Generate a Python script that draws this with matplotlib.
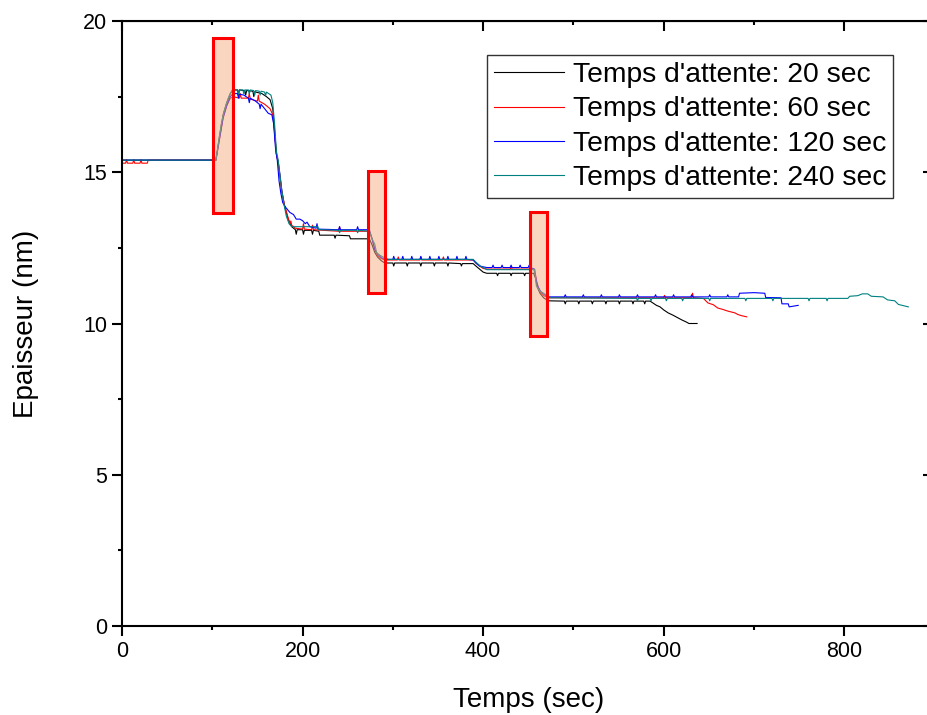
import matplotlib
matplotlib.use('Agg')
import matplotlib.pyplot as plt
from matplotlib.patches import Rectangle
from matplotlib.ticker import MultipleLocator

plt.rcParams['font.family'] = ['Liberation Sans', 'DejaVu Sans']

# temps d'attente 20 sec (noir)
t20 = [0, 104, 108, 112, 116, 120, 123, 128, 129, 130, 136, 137, 138, 145, 146, 147, 155, 160, 164,
       167, 169, 171, 173, 175, 177, 180, 184, 188, 192, 193, 194, 200, 201, 202, 210, 211, 212, 218,
       219, 235, 236, 237, 252, 253, 274, 277, 280, 283, 287, 291, 300, 301, 302, 315, 316, 317, 330,
       331, 332, 345, 346, 347, 360, 361, 362, 375, 376, 377, 389, 392, 396, 400, 404, 415, 416, 417,
       430, 431, 432, 445, 446, 447, 456, 458, 460, 463, 467, 472, 490, 491, 492, 505, 506, 507, 520,
       521, 522, 535, 536, 537, 550, 551, 552, 565, 566, 567, 578, 579, 580, 585, 588, 592, 596, 600,
       605, 610, 615, 620, 625, 628, 637]
e20 = [15.4, 15.4, 16.2, 16.9, 17.3, 17.6, 17.72, 17.72, 17.55, 17.72, 17.7, 17.55, 17.7, 17.68, 17.5,
       17.66, 17.6, 17.5, 17.4, 17.1, 16.4, 15.6, 15.35, 14.9, 14.4, 13.9, 13.45, 13.2, 13.1, 12.95,
       13.1, 13.1, 12.95, 13.08, 13.08, 12.95, 13.08, 13.05, 12.92, 12.92, 12.82, 12.92, 12.9, 12.8,
       12.8, 12.6, 12.35, 12.2, 12.08, 12.0, 12.0, 11.9, 12.0, 12.0, 11.9, 12.0, 12.0, 11.9, 12.0,
       12.0, 11.9, 12.0, 12.0, 11.9, 12.0, 11.98, 11.9, 11.98, 11.98, 11.9, 11.8, 11.7, 11.66, 11.66,
       11.58, 11.66, 11.66, 11.58, 11.66, 11.66, 11.58, 11.66, 11.66, 11.5, 11.2, 11.0, 10.85, 10.75,
       10.74, 10.65, 10.74, 10.74, 10.65, 10.74, 10.74, 10.65, 10.74, 10.74, 10.65, 10.74, 10.74,
       10.65, 10.74, 10.74, 10.65, 10.74, 10.74, 10.65, 10.74, 10.74, 10.68, 10.6, 10.55, 10.45,
       10.35, 10.28, 10.2, 10.12, 10.05, 10.0, 10.0]

# temps d'attente 60 sec (rouge)
t60 = [0, 4, 5, 6, 12, 13, 14, 20, 21, 22, 28, 29, 104, 108, 112, 116, 120, 123, 130, 131, 132, 140,
       141, 142, 150, 151, 152, 158, 164, 167, 169, 171, 173, 175, 177, 180, 184, 186, 187, 188, 192,
       200, 201, 202, 210, 211, 212, 240, 241, 242, 274, 277, 280, 283, 287, 291, 305, 306, 307, 330,
       331, 332, 355, 356, 357, 389, 392, 396, 400, 404, 430, 431, 432, 456, 458, 460, 463, 467, 472,
       600, 601, 602, 631, 632, 633, 644, 649, 655, 660, 665, 671, 675, 679, 682, 686, 692]
e60 = [15.3, 15.3, 15.42, 15.3, 15.3, 15.42, 15.3, 15.3, 15.42, 15.3, 15.3, 15.4, 15.4, 16.1, 16.8,
       17.2, 17.45, 17.5, 17.45, 17.6, 17.45, 17.45, 17.6, 17.42, 17.35, 17.55, 17.35, 17.25, 17.1,
       16.9, 16.3, 15.6, 15.3, 14.85, 14.35, 13.9, 13.5, 13.3, 13.39, 13.25, 13.15, 13.12, 13.3, 13.12,
       13.1, 13.25, 13.1, 13.05, 13.2, 13.05, 13.05, 12.8, 12.45, 12.25, 12.15, 12.1, 12.1, 12.2, 12.1,
       12.1, 12.2, 12.1, 12.1, 12.2, 12.1, 12.1, 12.0, 11.9, 11.82, 11.8, 11.8, 11.88, 11.8, 11.8,
       11.6, 11.3, 11.05, 10.92, 10.85, 10.85, 10.93, 10.85, 10.85, 11.0, 10.85, 10.83, 10.68, 10.62,
       10.51, 10.47, 10.41, 10.38, 10.35, 10.3, 10.26, 10.22]

# temps d'attente 120 sec (bleu)
t120 = [0, 104, 108, 112, 116, 120, 123, 128, 129, 130, 135, 140, 141, 142, 148, 152, 153, 154, 158,
        162, 166, 168, 170, 172, 174, 176, 178, 181, 186, 190, 193, 197, 200, 203, 205, 208, 215, 216,
        217, 240, 241, 242, 260, 261, 262, 274, 277, 280, 283, 287, 291, 300, 301, 302, 310, 311, 312,
        320, 321, 322, 330, 331, 332, 340, 341, 342, 350, 351, 352, 360, 361, 362, 370, 371, 372, 380,
        381, 382, 389, 392, 396, 404, 410, 411, 412, 420, 421, 422, 430, 431, 432, 440, 441, 442, 450,
        451, 452, 457, 459, 461, 464, 468, 472, 490, 491, 492, 510, 511, 512, 530, 531, 532, 550, 551,
        552, 570, 571, 572, 590, 591, 592, 610, 611, 612, 630, 631, 632, 650, 651, 652, 670, 671, 672,
        683, 684, 700, 712, 713, 730, 731, 738, 739, 749]
e120 = [15.4, 15.4, 16.1, 16.8, 17.2, 17.5, 17.6, 17.6, 17.45, 17.58, 17.55, 17.45, 17.3, 17.45, 17.35,
        17.25, 17.1, 17.25, 17.1, 16.95, 16.9, 16.6, 15.8, 15.4, 14.7, 14.3, 14.0, 13.85, 13.67, 13.6,
        13.45, 13.45, 13.4, 13.3, 13.35, 13.2, 13.15, 13.3, 13.12, 13.1, 13.2, 13.1, 13.1, 13.2, 13.1,
        13.1, 12.8, 12.45, 12.3, 12.18, 12.12, 12.12, 12.22, 12.12, 12.12, 12.22, 12.12, 12.12, 12.22,
        12.12, 12.12, 12.22, 12.12, 12.12, 12.22, 12.12, 12.12, 12.22, 12.12, 12.12, 12.22, 12.12,
        12.12, 12.22, 12.12, 12.12, 12.22, 12.12, 12.1, 12.0, 11.9, 11.85, 11.85, 11.93, 11.85, 11.85,
        11.93, 11.85, 11.85, 11.93, 11.85, 11.85, 11.93, 11.85, 11.85, 11.93, 11.85, 11.8, 11.4, 11.2,
        11.05, 10.95, 10.88, 10.88, 10.95, 10.88, 10.88, 10.95, 10.88, 10.88, 10.95, 10.88, 10.88,
        10.95, 10.88, 10.88, 10.95, 10.88, 10.88, 10.95, 10.88, 10.88, 10.95, 10.88, 10.88, 10.95,
        10.88, 10.88, 10.95, 10.88, 10.88, 10.95, 10.88, 10.88, 11.0, 11.02, 11.0, 10.86, 10.85, 10.65,
        10.65, 10.55, 10.6]

# temps d'attente 240 sec (vert)
t240 = [0, 104, 107, 110, 113, 116, 119, 122, 128, 129, 130, 134, 135, 136, 140, 141, 142, 146, 147,
        148, 152, 153, 154, 158, 159, 160, 165, 167, 169, 171, 173, 175, 177, 179, 182, 185, 188, 217,
        218, 240, 241, 242, 260, 261, 262, 274, 277, 280, 282, 286, 291, 295, 389, 393, 397, 404, 457,
        459, 463, 469, 472, 570, 571, 572, 585, 586, 587, 602, 603, 604, 620, 621, 622, 650, 651, 652,
        690, 691, 692, 720, 721, 722, 760, 761, 762, 780, 781, 782, 804, 806, 815, 820, 826, 830, 843,
        848, 856, 860, 871]
e240 = [15.4, 15.4, 16.0, 16.6, 17.0, 17.3, 17.55, 17.72, 17.72, 17.58, 17.72, 17.72, 17.58, 17.72,
        17.72, 17.58, 17.72, 17.7, 17.55, 17.7, 17.68, 17.55, 17.68, 17.65, 17.52, 17.65, 17.55, 17.3,
        16.6, 15.7, 15.4, 14.9, 14.4, 14.0, 13.55, 13.3, 13.2, 13.2, 13.1, 13.08, 13.0, 13.08, 13.08,
        13.0, 13.08, 13.05, 12.8, 12.62, 12.34, 12.25, 12.17, 12.12, 12.12, 12.0, 11.9, 11.78, 11.78,
        11.24, 11.07, 10.96, 10.85, 10.83, 10.75, 10.83, 10.83, 10.75, 10.83, 10.83, 10.75, 10.83,
        10.83, 10.75, 10.83, 10.83, 10.75, 10.83, 10.83, 10.75, 10.83, 10.83, 10.75, 10.83, 10.83,
        10.75, 10.83, 10.83, 10.75, 10.83, 10.83, 10.9, 10.92, 10.98, 10.98, 10.9, 10.88, 10.78, 10.75,
        10.63, 10.55]

series = [(t20, e20, 'black', "Temps d'attente: 20 sec"),
          (t60, e60, 'red', "Temps d'attente: 60 sec"),
          (t120, e120, 'blue', "Temps d'attente: 120 sec"),
          (t240, e240, '#008080', "Temps d'attente: 240 sec")]

# zones surlignées (x0, x1, y0, y1)
zones = [(101, 123, 13.65, 19.45), (273, 291, 11.0, 15.05), (452, 471, 9.6, 13.68)]

fig = plt.figure(figsize=(9.28, 7.15), dpi=100)
ax = fig.add_axes([122 / 928, 89 / 715, 812.5 / 928, 605 / 715])

for x, y, c, lab in series:
    ax.plot(x, y, color=c, lw=0.8, label=lab, zorder=2)

for x0, x1, y0, y1 in zones:
    ax.add_patch(Rectangle((x0, y0), x1 - x0, y1 - y0, facecolor=(247/255, 173/255, 129/255, 0.5),
                           edgecolor='red', lw=2.2, zorder=3))

ax.set_xlim(0, 900)
ax.set_ylim(0, 20)
ax.xaxis.set_major_locator(MultipleLocator(200))
ax.xaxis.set_minor_locator(MultipleLocator(100))
ax.yaxis.set_major_locator(MultipleLocator(5))
ax.yaxis.set_minor_locator(MultipleLocator(2.5))
ax.tick_params(which='both', direction='out', width=1.5, labelsize=15.5)
ax.tick_params(which='major', length=7)
ax.tick_params(which='minor', length=3)
for s in ax.spines.values():
    s.set_linewidth(1.5)

top = ax.secondary_xaxis('top')
top.xaxis.set_major_locator(MultipleLocator(200))
top.xaxis.set_minor_locator(MultipleLocator(100))
top.tick_params(which='both', direction='in', width=1.5, labeltop=False)
top.tick_params(which='major', length=7)
top.tick_params(which='minor', length=3)
right = ax.secondary_yaxis('right')
right.yaxis.set_major_locator(MultipleLocator(5))
right.yaxis.set_minor_locator(MultipleLocator(2.5))
right.tick_params(which='both', direction='in', width=1.5, labelright=False)
right.tick_params(which='major', length=9)
right.tick_params(which='minor', length=3)

ax.set_xlabel('Temps (sec)', fontsize=20, labelpad=18)
ax.set_ylabel('Epaisseur (nm)', fontsize=20, labelpad=32)

leg = ax.legend(loc='upper right', bbox_to_anchor=(0.949, 0.944), borderaxespad=0, fontsize=20.3,
                fancybox=False, edgecolor='#333333', framealpha=1, handlelength=2.5,
                handletextpad=0.3, labelspacing=0.3, borderpad=0.25)
leg.get_frame().set_linewidth(1.0)
leg.set_zorder(5)

fig.savefig('out.png', dpi=100)
